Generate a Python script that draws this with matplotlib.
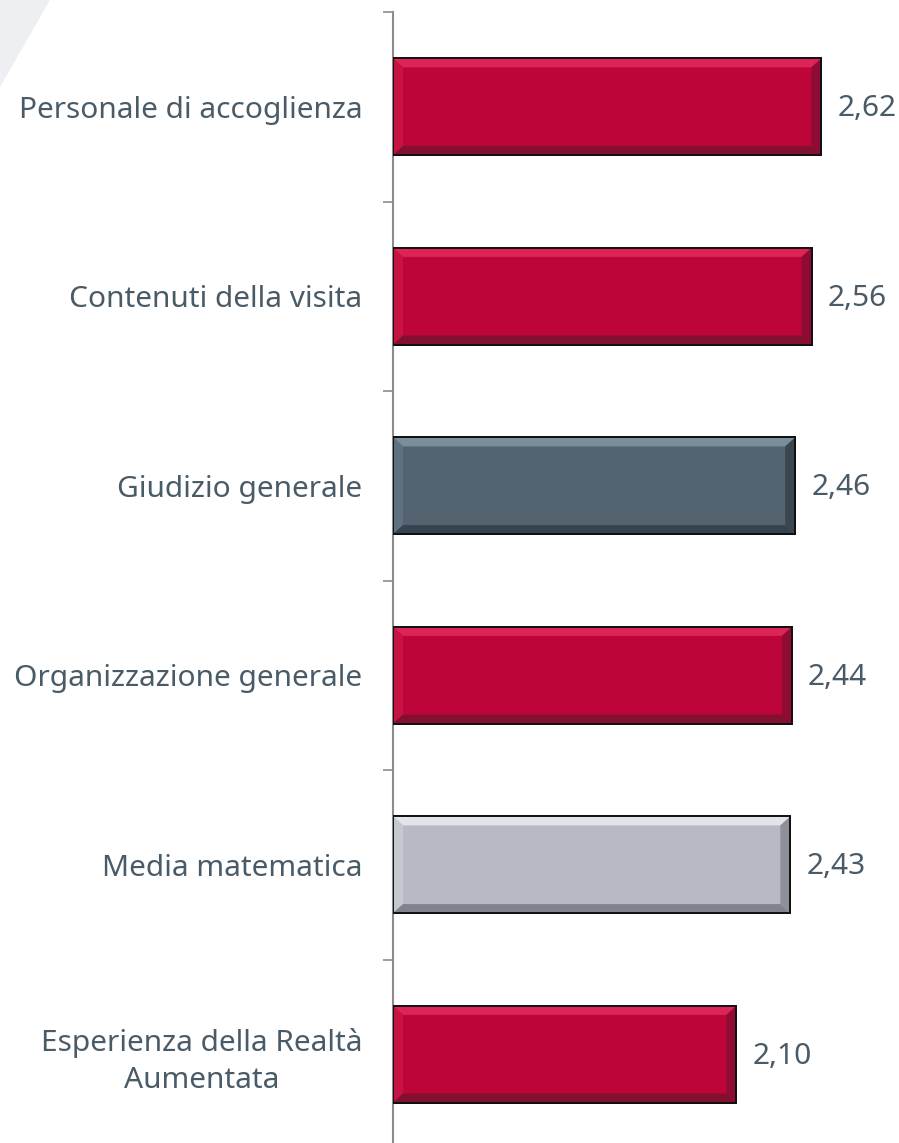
import numpy as np
import matplotlib
matplotlib.use("Agg")
import matplotlib.pyplot as plt
from matplotlib.patches import Polygon, Rectangle

# dati del grafico (dall'alto verso il basso)
categorie = ["Personale di accoglienza", "Contenuti della visita", "Giudizio generale",
             "Organizzazione generale", "Media matematica",
             "Esperienza della Realtà\nAumentata"]
valori = [2.62, 2.56, 2.46, 2.44, 2.43, 2.10]
tipo = ["rosso", "rosso", "ardesia", "rosso", "grigio", "rosso"]

# base, alto, sinistra, basso, destra
palette = {
    "rosso":   ["#BE053A", "#DC2456", "#C81244", "#82102F", "#8E0C33"],
    "ardesia": ["#53636F", "#7A8D9B", "#5F7180", "#38444D", "#3A4650"],
    "grigio":  ["#B7BAC3", "#E2E4EB", "#C5C8D0", "#80838C", "#8D9099"],
}
testo_col = "#4A5B68"

plt.rcParams['font.family'] = ['Noto Sans', 'DejaVu Sans']

W, H = 899, 1143
fig = plt.figure(figsize=(W / 100, H / 100), dpi=100)

# decorazione in alto a sinistra
fig.patches.append(Polygon([(0, 1), (50 / W, 1), (0, 1 - 87 / H)], closed=True,
                           transform=fig.transFigure, facecolor="#EDEFF2",
                           edgecolor="none", zorder=0))

x0_px, top_px, passo = 393, 12, 189.5
n = len(categorie)
bottom_px = top_px + n * passo
ax = fig.add_axes([x0_px / W, (H - bottom_px) / H, (W - x0_px) / W, (bottom_px - top_px) / H])
ax.patch.set_alpha(0)

px_x = 163.5
xmax = (W - x0_px) / px_x
ax.set_xlim(0, xmax)
ax.set_ylim(n - 0.5, -0.5)

y = np.arange(n)
alt = 0.51
bars = ax.barh(y, valori, height=alt, color=[palette[t][0] for t in tipo],
               edgecolor="#111111", linewidth=1.4, zorder=3)

# effetto smussato
bx = 10 / px_x
by = 9 / passo
for b, t in zip(bars, tipo):
    c = palette[t]
    xa, ya = b.get_x(), b.get_y()
    xb, yb = xa + b.get_width(), ya + b.get_height()
    ax.add_patch(Polygon([(xa, ya), (xb, ya), (xb - bx, ya + by), (xa + bx, ya + by)],
                         facecolor=c[1], edgecolor="none", zorder=4))
    ax.add_patch(Polygon([(xa, ya), (xa + bx, ya + by), (xa + bx, yb - by), (xa, yb)],
                         facecolor=c[2], edgecolor="none", zorder=4))
    ax.add_patch(Polygon([(xa, yb), (xa + bx, yb - by), (xb - bx, yb - by), (xb, yb)],
                         facecolor=c[3], edgecolor="none", zorder=4))
    ax.add_patch(Polygon([(xb, ya), (xb, yb), (xb - bx, yb - by), (xb - bx, ya + by)],
                         facecolor=c[4], edgecolor="none", zorder=4))
    ax.add_patch(Rectangle((xa, ya), xb - xa, yb - ya, facecolor="none",
                           edgecolor="#111111", linewidth=1.4, zorder=5))

for b, v in zip(bars, valori):
    ax.annotate(f"{v:.2f}".replace(".", ","), (v, b.get_y() + b.get_height() / 2),
                xytext=(11.5, -1.5), textcoords="offset points", ha="left", va="center",
                fontsize=21.5, color=testo_col)

for s in ["top", "right", "bottom"]:
    ax.spines[s].set_visible(False)
ax.spines["left"].set_color("#8C8C8C")
ax.spines["left"].set_linewidth(1.5)
ax.set_xticks([])

ax.set_yticks(y)
ax.set_yticklabels(categorie, fontsize=21.5, color=testo_col, multialignment="center",
                   linespacing=1.35)
ax.tick_params(axis="y", which="major", length=0, pad=22)
ax.set_yticks(np.arange(n + 1) - 0.5, minor=True)
ax.tick_params(axis="y", which="minor", length=7, width=1.2, color="#8C8C8C", direction="out")

fig.savefig("out.png", dpi=100)
